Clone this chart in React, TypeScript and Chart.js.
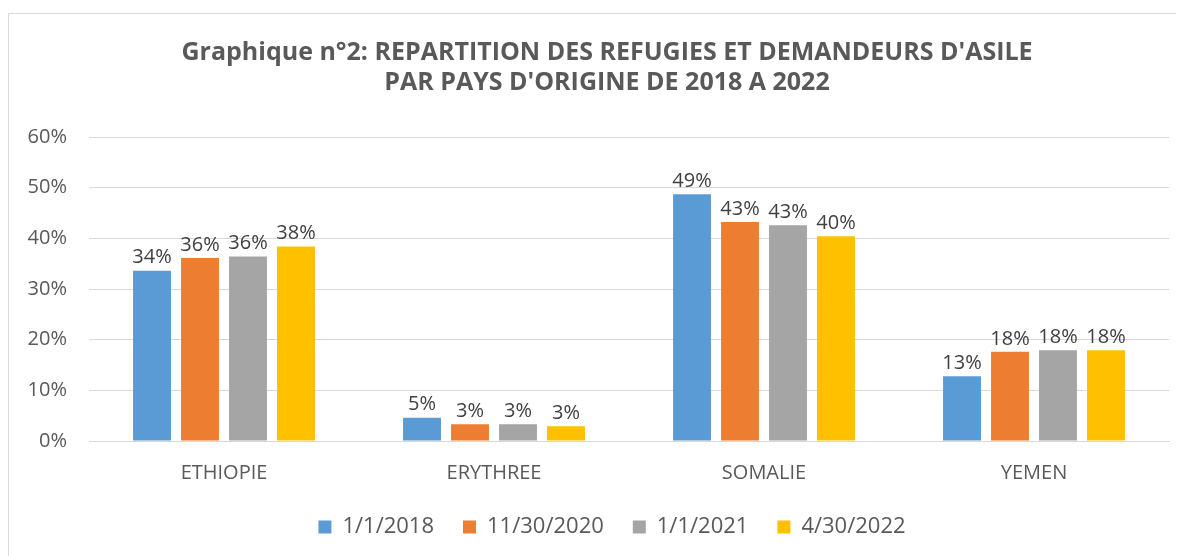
import React, { useEffect, useRef } from "react";
import { Chart, registerables } from "chart.js";

Chart.register(...registerables);

const categories = ["ETHIOPIE", "ERYTHREE", "SOMALIE", "YEMEN"];
const seriesLabels = ["1/1/2018", "11/30/2020", "1/1/2021", "4/30/2022"];
const s2018 = [33.6, 4.6, 48.7, 12.8];
const s2020 = [36.1, 3.3, 43.2, 17.6];
const s2021 = [36.4, 3.3, 42.6, 17.9];
const s2022 = [38.4, 2.9, 40.4, 17.9];
const colors = ["#5B9BD5", "#ED7D31", "#A5A5A5", "#FFC000"];
const titleLines = [
  "Graphique n°2: REPARTITION DES REFUGIES ET DEMANDEURS D'ASILE",
  "PAR PAYS D'ORIGINE DE 2018 A 2022",
];
const yMax = 60;
const yStep = 10;

const FONT = "'Open Sans', sans-serif";

const valueLabels = {
  id: "valueLabels",
  afterDatasetsDraw(chart: any) {
    const ctx = chart.ctx;
    ctx.save();
    ctx.font = `20px ${FONT}`;
    ctx.fillStyle = "#404040";
    ctx.textAlign = "center";
    ctx.textBaseline = "bottom";
    chart.data.datasets.forEach((ds: any, i: number) => {
      const meta = chart.getDatasetMeta(i);
      meta.data.forEach((bar: any, j: number) => {
        const v = ds.data[j];
        ctx.fillText(Math.round(v) + "%", bar.x, bar.y - 3);
      });
    });
    ctx.restore();
  },
};

// The original chart frame is wider than the visible crop, so its title and
// legend are centred a little to the right of the plot area.
const shiftBlocks = {
  id: "shiftBlocks",
  afterLayout(chart: any) {
    if (chart.titleBlock) chart.titleBlock.left += 36;
    if (chart.legend) chart.legend.left += 46;
  },
};

export default function App() {
  const ref = useRef<HTMLCanvasElement>(null);
  useEffect(() => {
    if (!ref.current) return;
    const data = [s2018, s2020, s2021, s2022];
    const chart = new Chart(ref.current, {
      type: "bar",
      data: {
        labels: categories,
        datasets: seriesLabels.map((l, i) => ({
          label: l,
          data: data[i],
          backgroundColor: colors[i],
          barPercentage: 0.79,
          categoryPercentage: 0.711,
        })),
      },
      options: {
        animation: false,
        responsive: false,
        maintainAspectRatio: false,
        layout: { padding: { left: 0, right: 15, top: 12, bottom: 8 } },
        plugins: {
          title: {
            display: true,
            text: titleLines,
            color: "#595959",
            font: { family: FONT, size: 25, weight: "bold", lineHeight: 30 / 25 },
            padding: { top: 12, bottom: 39 },
          },
          legend: {
            position: "bottom",
            labels: {
              color: "#595959",
              font: { family: FONT, size: 22 },
              boxWidth: 13,
              boxHeight: 13,
              padding: 29,
            },
          },
          tooltip: { enabled: false },
        },
        scales: {
          x: {
            grid: { display: false },
            border: { display: true, color: "#D9D9D9" },
            ticks: { color: "#595959", font: { family: FONT, size: 20 }, padding: 12 },
            afterFit: (s: any) => {
              s.height = 46;
            },
          },
          y: {
            min: 0,
            max: yMax,
            ticks: {
              stepSize: yStep,
              color: "#595959",
              font: { family: FONT, size: 20 },
              padding: 22,
              callback: (v: any) => v + "%",
            },
            grid: { color: "#D9D9D9", drawTicks: false },
            border: { display: false },
            afterFit: (s: any) => {
              s.width = 80;
            },
          },
        },
      },
      plugins: [valueLabels, shiftBlocks],
    });
    return () => chart.destroy();
  }, []);
  return (
    <div
      style={{
        marginTop: 5,
        width: 1175,
        height: 542,
        borderLeft: "1px solid #D9D9D9",
        borderTop: "1px solid #D9D9D9",
      }}
    >
      <canvas ref={ref} width={1175} height={542} style={{ display: "block" }} />
    </div>
  );
}
